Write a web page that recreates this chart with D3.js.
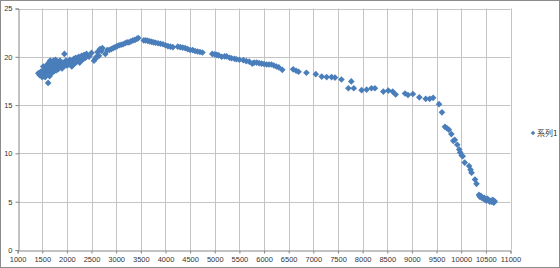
<!DOCTYPE html>
<html>
<head>
<meta charset="utf-8">
<script src="https://cdn.jsdelivr.net/npm/d3@7"></script>
<style>
    body { margin: 0; background: #fff; }
    svg text { font-family: "Liberation Sans", "Noto Sans CJK JP", sans-serif; font-size: 8px; fill: #333; }
</style>
</head>
<body>
<div id="chart"></div>
<script>
// x values
var xs = [
    1420, 1450, 1480, 1500, 1520, 1540, 1550, 1560, 1580, 1600, 1600, 1620, 1630, 1640, 1650, 1660,
    1670, 1680, 1690, 1700, 1710, 1720, 1730, 1740, 1750, 1760, 1770, 1780, 1790, 1800, 1810, 1820,
    1830, 1850, 1860, 1880, 1900, 1920, 1940, 1950, 1960, 1980, 2000, 2020, 2040, 2060, 2080, 2100,
    2120, 2140, 2160, 2180, 2200, 2220, 2240, 2260, 2280, 2300, 2320, 2350, 2380, 2400, 2450, 2500,
    2550, 2580, 2600, 2620, 2650, 2670, 2700, 2720, 2780, 2820, 2860, 2900, 2940, 2980, 3020, 3060,
    3100, 3140, 3180, 3220, 3260, 3300, 3340, 3380, 3420, 3450, 3560, 3600, 3640, 3680, 3720, 3760,
    3800, 3850, 3900, 3950, 4000, 4050, 4100, 4150, 4250, 4300, 4350, 4400, 4450, 4500, 4550, 4600,
    4650, 4700, 4750, 4950, 5000, 5040, 5080, 5140, 5200, 5240, 5300, 5340, 5400, 5440, 5500, 5580,
    5640, 5700, 5760, 5800, 5850, 5900, 5950, 6000, 6050, 6100, 6150, 6200, 6250, 6300, 6370, 6590,
    6650, 6700, 6860, 7050, 7170, 7270, 7370, 7440, 7570, 7710, 7770, 7820, 7980, 8080, 8180, 8250,
    8420, 8520, 8610, 8670, 8860, 8920, 9020, 9150, 9280, 9360, 9430, 9550, 9610, 9670, 9710, 9750,
    9800, 9840, 9870, 9920, 9960, 9980, 10010, 10030, 10070, 10160, 10190, 10210, 10280, 10310, 10360, 10380,
    10400, 10420, 10450, 10470, 10490, 10510, 10530, 10550, 10580, 10600, 10620, 10640, 10660, 10680
];
// y values, same order
var ys = [
    18.3, 18.1, 18.5, 17.9, 19.0, 18.6, 18.2, 17.9, 18.9, 19.2, 18.4, 17.3, 18.8, 19.4, 18.0, 19.6,
    18.6, 19.1, 18.3, 19.5, 18.8, 19.0, 19.6, 18.5, 19.3, 18.9, 19.7, 18.6, 19.2, 19.0, 19.5, 18.7,
    19.3, 18.9, 19.6, 19.1, 18.8, 19.4, 19.0, 20.3, 19.3, 19.6, 19.1, 19.5, 19.2, 19.7, 19.4, 19.0,
    19.6, 19.8, 19.3, 19.9, 19.5, 19.7, 20.0, 19.4, 19.8, 20.1, 19.7, 20.2, 19.9, 20.3, 20.0, 20.4,
    19.6, 19.8, 20.0, 20.5, 20.1, 20.8, 20.6, 20.9, 20.3, 20.7, 20.7, 20.8, 20.9, 21.0, 21.1, 21.2,
    21.25, 21.3, 21.4, 21.5, 21.5, 21.6, 21.7, 21.75, 21.85, 21.95, 21.7, 21.7, 21.65, 21.6, 21.55, 21.5,
    21.45, 21.4, 21.35, 21.3, 21.2, 21.1, 21.05, 21.0, 21.05, 21.0, 20.95, 20.9, 20.8, 20.7, 20.7, 20.6,
    20.55, 20.5, 20.45, 20.3, 20.25, 20.2, 20.15, 20.0, 20.05, 20.05, 19.9, 19.85, 19.8, 19.75, 19.7, 19.65,
    19.55, 19.5, 19.3, 19.4, 19.4, 19.35, 19.3, 19.25, 19.2, 19.2, 19.2, 19.1, 19.0, 18.9, 18.65, 18.7,
    18.55, 18.45, 18.35, 18.2, 17.95, 17.9, 17.9, 17.85, 17.65, 16.75, 17.45, 16.75, 16.55, 16.6, 16.75, 16.75,
    16.4, 16.5, 16.4, 16.1, 16.2, 16.05, 16.15, 15.8, 15.65, 15.65, 15.75, 15.1, 14.25, 12.75, 12.6, 12.45,
    12.0, 11.3, 11.4, 10.9, 10.4, 10.1, 9.8, 9.7, 9.05, 8.7, 8.3, 8.0, 7.3, 6.85, 5.7, 5.5,
    5.6, 5.4, 5.3, 5.4, 5.2, 5.1, 5.3, 5.2, 5.0, 5.1, 5.0, 5.2, 4.9, 5.05
];
var xTicks = d3.range(1000, 11001, 500);
var yTicks = [0, 5, 10, 15, 20, 25];
var seriesName = "系列1";

var width = 560, height = 268,
    margin = { top: 8.5, right: 49.5, bottom: 18, left: 17.6 },
    color = "#4a7ebb";

var svg = d3.select("#chart").append("svg")
    .attr("width", width)
    .attr("height", height);

svg.append("rect")
    .attr("x", 0.5).attr("y", 0.5)
    .attr("width", width - 1).attr("height", height - 1)
    .attr("fill", "#fff").attr("stroke", "#8c8c8c");

var x = d3.scaleLinear().domain([1000, 11000]).range([margin.left, width - margin.right]),
    y = d3.scaleLinear().domain([0, 25]).range([height - margin.bottom, margin.top]);

// grid
svg.append("g").selectAll("line")
    .data(xTicks.slice(1))
    .enter().append("line")
    .attr("x1", function (d) { return Math.round(x(d)) + 0.5; })
    .attr("x2", function (d) { return Math.round(x(d)) + 0.5; })
    .attr("y1", y(25)).attr("y2", y(0))
    .attr("stroke", "#c4c4c4");

svg.append("g").selectAll("line")
    .data(yTicks.slice(1))
    .enter().append("line")
    .attr("x1", x(1000)).attr("x2", x(11000))
    .attr("y1", function (d) { return Math.round(y(d)) + 0.5; })
    .attr("y2", function (d) { return Math.round(y(d)) + 0.5; })
    .attr("stroke", "#c4c4c4");

// axes
var xAxis = d3.axisBottom(x).tickValues(xTicks).tickFormat(d3.format("d")).tickSize(3).tickPadding(3),
    yAxis = d3.axisLeft(y).tickValues(yTicks).tickFormat(d3.format("d")).tickSize(3).tickPadding(3);

var gx = svg.append("g")
    .attr("transform", "translate(0," + (Math.round(y(0)) + 0.5) + ")")
    .call(xAxis);
var gy = svg.append("g")
    .attr("transform", "translate(" + (Math.round(x(1000)) + 0.5) + ",0)")
    .call(yAxis);

[gx, gy].forEach(function (g) {
    g.select(".domain").attr("stroke", "#868686");
    g.selectAll(".tick line").attr("stroke", "#868686");
    g.selectAll(".tick text").attr("fill", "#333").style("font-size", "7.5px");
});

// points
var marker = d3.symbol().type(d3.symbolSquare).size(22);

svg.append("g").selectAll("path")
    .data(d3.range(xs.length))
    .enter().append("path")
    .attr("d", marker)
    .attr("transform", function (i) { return "translate(" + x(xs[i]) + "," + y(ys[i]) + ") rotate(45)"; })
    .attr("fill", color);

// legend
var legend = svg.append("g").attr("transform", "translate(533,133)");
legend.append("path")
    .attr("d", d3.symbol().type(d3.symbolSquare).size(10))
    .attr("transform", "rotate(45)")
    .attr("fill", color);
legend.append("text")
    .attr("x", 4).attr("y", 3)
    .style("font-family", "'Noto Sans CJK JP', sans-serif")
    .style("font-size", "8px")
    .text(seriesName);
</script>
</body>
</html>
